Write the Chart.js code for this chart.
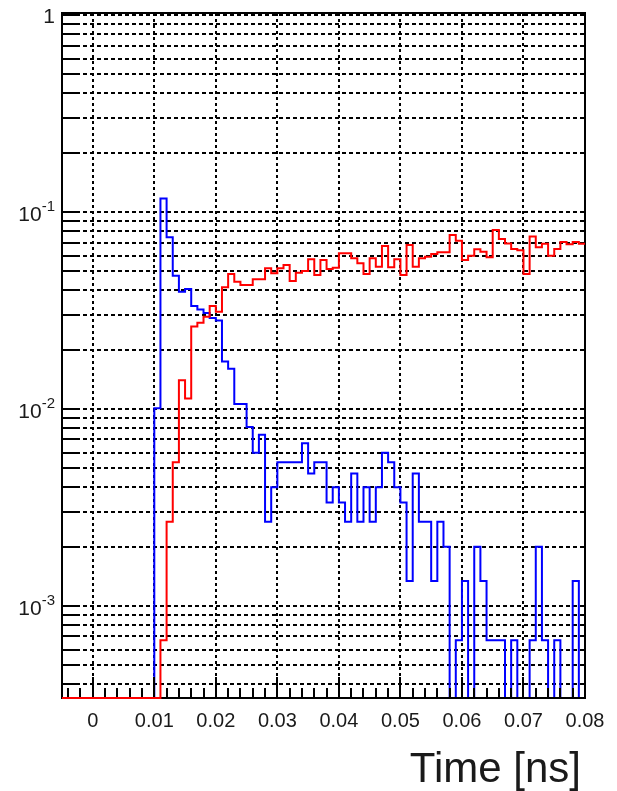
<!DOCTYPE html>
<html>
<head>
<meta charset="utf-8">
<script src="https://cdn.jsdelivr.net/npm/chart.js@4.4.1/dist/chart.umd.min.js"></script>
<style>
html, body { margin: 0; padding: 0; background: #fff; }
canvas { display: block; }
</style>
</head>
<body>
<canvas id="timeChart" width="617" height="791"></canvas>
<script>
// histogram: 85 bins of 0.001 ns, from -0.005 to 0.08 ns
const binStart = -0.005;
const binWidth = 0.001;

// red histogram (bins -0.005 ... 0.079)
const redValues = [
    0, 0, 0, 0, 0, 0, 0, 0, 0, 0, 0, 0, 0, 0, 0, 0,
    0.00067, 0.00268, 0.00537, 0.0140, 0.0113, 0.0262, 0.0274, 0.0294, 0.0333, 0.0312,
    0.0415, 0.0484, 0.0443, 0.0426, 0.0426, 0.0455, 0.0455, 0.0518, 0.0489, 0.0518,
    0.0538, 0.0447, 0.0492, 0.0502, 0.0575, 0.0479, 0.0571, 0.0514, 0.0521, 0.0617,
    0.0617, 0.0582, 0.0549, 0.0484, 0.0582, 0.0528, 0.0672, 0.0524, 0.0575, 0.0479,
    0.0679, 0.0528, 0.0582, 0.0593, 0.0612, 0.0624, 0.0624, 0.0764, 0.0714, 0.0571,
    0.0600, 0.0647, 0.0629, 0.0589, 0.0811, 0.0729, 0.0693, 0.0649, 0.0640, 0.0484,
    0.0750, 0.0662, 0.0690, 0.0600, 0.0649, 0.0705, 0.0686, 0.0705, 0.0689
];

// blue histogram (bins -0.005 ... 0.079)
const blueValues = [
    0, 0, 0, 0, 0, 0, 0, 0, 0, 0, 0, 0, 0, 0, 0,
    0.0101, 0.117, 0.0744, 0.0475, 0.0394, 0.0407, 0.0333, 0.0320, 0.0307, 0.0290,
    0.0281, 0.0174, 0.0160, 0.0106, 0.0106, 0.0081, 0.0060, 0.0074, 0.00268, 0.0040,
    0.00536, 0.00536, 0.00536, 0.00536, 0.0067, 0.0047, 0.00536, 0.00536, 0.00335, 0.0040,
    0.00335, 0.00268, 0.0047, 0.00268, 0.0040, 0.00268, 0.0040, 0.0060, 0.00536, 0.0040,
    0.00335, 0.00134, 0.0047, 0.00268, 0.00268, 0.00134, 0.00268, 0.0020, 0, 0.00067,
    0.00134, 0, 0.0020, 0.00134, 0.00067, 0.00067, 0.00067, 0, 0.00067, 0,
    0, 0.00067, 0.0020, 0.00067, 0, 0.00067, 0, 0, 0.00134, 0
];

const xTickValues = [0, 0.01, 0.02, 0.03, 0.04, 0.05, 0.06, 0.07, 0.08];
const xTickLabels = ['0', '0.01', '0.02', '0.03', '0.04', '0.05', '0.06', '0.07', '0.08'];
const xMinorStep = 0.002;

const yGridValues = [
    0.0004, 0.0005, 0.0006, 0.0007, 0.0008, 0.0009,
    0.001, 0.002, 0.003, 0.004, 0.005, 0.006, 0.007, 0.008, 0.009,
    0.01, 0.02, 0.03, 0.04, 0.05, 0.06, 0.07, 0.08, 0.09,
    0.1, 0.2, 0.3, 0.4, 0.5, 0.6, 0.7, 0.8, 0.9, 1
];
const yLabelValues = [1, 0.1, 0.01, 0.001];
const yLabelExps = ['', '-1', '-2', '-3'];

const xMin = -0.005, xMax = 0.08;
const yMin = 3.41e-4, yMax = 1.024;

const FONT = '"Liberation Sans", Arial, Helvetica, sans-serif';

// empty bins sit on the bottom of the frame like in ROOT
function toSteps(values) {
    const pts = values.map((v, i) => ({ x: binStart + i * binWidth, y: v > 0 ? v : yMin }));
    pts.push({ x: binStart + values.length * binWidth, y: pts[pts.length - 1].y });
    return pts;
}

function drawFrame(chart) {
    const { ctx, chartArea: a } = chart;
    const xs = chart.scales.x, ys = chart.scales.y;
    ctx.save();
    ctx.setLineDash([]);
    ctx.strokeStyle = '#000';
    ctx.lineWidth = 2;
    ctx.strokeRect(a.left, a.top, a.right - a.left, a.bottom - a.top);

    ctx.beginPath();
    yGridValues.forEach(v => {
        const py = Math.round(ys.getPixelForValue(v));
        ctx.moveTo(a.left, py);
        ctx.lineTo(a.left + 18, py);
    });
    for (let v = xMin + 0.001; v <= xMax + 1e-9; v += xMinorStep) {
        const px = Math.round(xs.getPixelForValue(v));
        ctx.moveTo(px, a.bottom);
        ctx.lineTo(px, a.bottom - 10);
    }
    xTickValues.forEach(v => {
        const px = Math.round(xs.getPixelForValue(v));
        ctx.moveTo(px, a.bottom);
        ctx.lineTo(px, a.bottom - 21);
    });
    ctx.stroke();
    ctx.restore();
}

const rootFrame = {
    id: 'rootFrame',
    // frame goes over the blue histogram, under the red one
    afterDatasetDraw(chart, args) {
        if (args.meta.label === 'blue') drawFrame(chart);
    },
    afterDraw(chart) {
        const { ctx, chartArea: a } = chart;
        const xs = chart.scales.x, ys = chart.scales.y;
        ctx.save();
        ctx.fillStyle = '#1a1a1a';

        // x tick labels
        ctx.font = '20px ' + FONT;
        ctx.textAlign = 'center';
        ctx.textBaseline = 'alphabetic';
        xTickValues.forEach((v, i) => {
            ctx.fillText(xTickLabels[i], xs.getPixelForValue(v), a.bottom + 29);
        });

        // y tick labels, 10 with superscript exponent
        const right = 55;
        yLabelValues.forEach((v, i) => {
            const py = ys.getPixelForValue(v);
            const exp = yLabelExps[i];
            ctx.textAlign = 'right';
            if (!exp) {
                ctx.font = '21px ' + FONT;
                ctx.fillText('1', right, py + 8);
                return;
            }
            ctx.font = '15px ' + FONT;
            const ew = ctx.measureText(exp).width;
            ctx.fillText(exp, right, py - 1);
            ctx.font = '21px ' + FONT;
            ctx.fillText('10', right - ew, py + 9);
        });

        // axis title
        ctx.font = '42px ' + FONT;
        ctx.textAlign = 'right';
        ctx.fillText('Time [ns]', 581, 782);
        ctx.restore();
    }
};

new Chart(document.getElementById('timeChart').getContext('2d'), {
    type: 'line',
    data: {
        datasets: [
            {
                label: 'red',
                data: toSteps(redValues),
                borderColor: '#ff0000',
                borderWidth: 2,
                stepped: 'before',
                pointRadius: 0,
                fill: false,
                clip: 2,
                order: 0
            },
            {
                label: 'blue',
                data: toSteps(blueValues),
                borderColor: '#0000ff',
                borderWidth: 2,
                stepped: 'before',
                pointRadius: 0,
                fill: false,
                clip: 2,
                order: 1
            }
        ]
    },
    options: {
        responsive: false,
        animation: false,
        devicePixelRatio: 1,
        layout: { padding: { left: 62, right: 32, top: 13, bottom: 93 } },
        plugins: { legend: { display: false }, tooltip: { enabled: false } },
        scales: {
            x: {
                type: 'linear',
                bounds: 'data',
                min: xMin,
                max: xMax,
                afterBuildTicks: s => { s.ticks = xTickValues.map(v => ({ value: v })); },
                afterFit: s => { s.height = 0; },
                ticks: { display: false },
                grid: { color: '#000', lineWidth: 2, drawTicks: false },
                border: { display: false, dash: [3, 3] }
            },
            y: {
                type: 'logarithmic',
                bounds: 'data',
                min: yMin,
                max: yMax,
                afterBuildTicks: s => { s.ticks = yGridValues.map(v => ({ value: v })); },
                afterFit: s => { s.width = 0; },
                ticks: { display: false },
                grid: { color: '#000', lineWidth: 2, drawTicks: false },
                border: { display: false, dash: [4, 3] }
            }
        }
    },
    plugins: [rootFrame]
});
</script>
</body>
</html>
